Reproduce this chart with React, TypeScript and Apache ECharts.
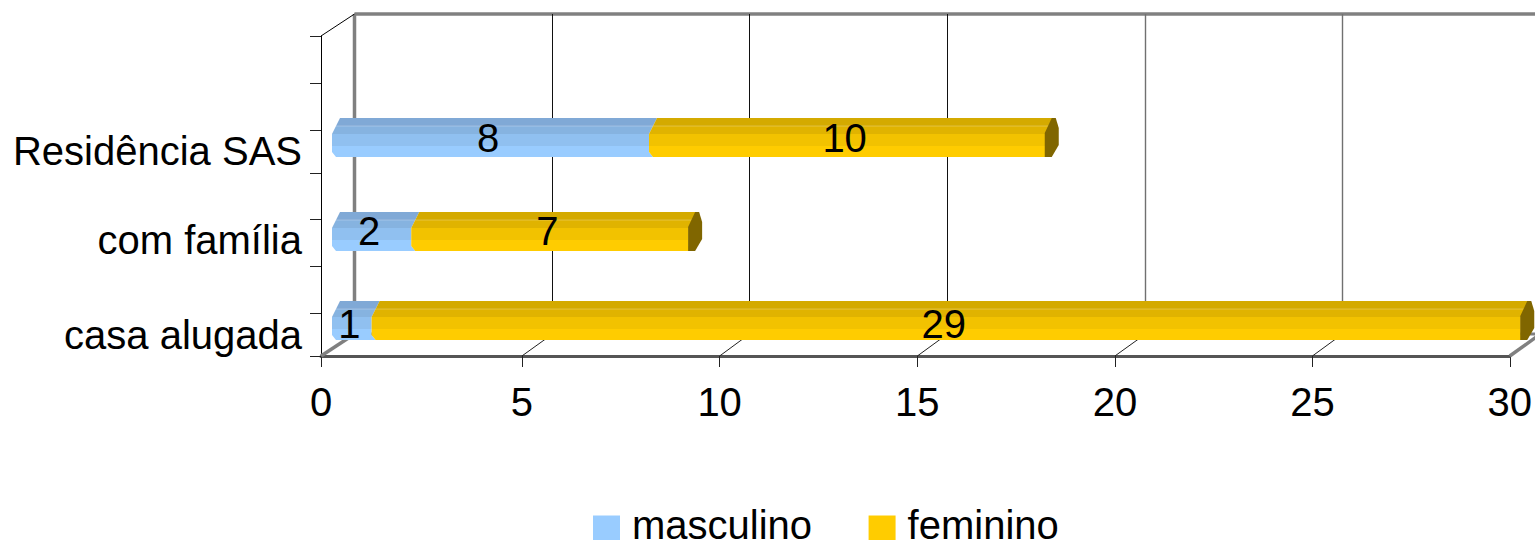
import React, { useEffect, useRef } from "react";
import * as echarts from "echarts";

const rowNames = ["casa alugada", "com família", "Residência SAS"];
const rowValues = [0.5, 2.45, 4.5];
const rowNameValues = [0.46, 2.54, 4.48];
const rowLabelValues = [0.71, 2.73, 4.77];
const masculino = [1, 2, 8];
const feminino = [29, 7, 10];
const xTicks = [0, 5, 10, 15, 20, 25, 30];
const xTickMarks = [0, 5.07, 10.06, 15.05, 20.035, 25.02, 30];
const yTickMarks = [0, 0.94, 1.97, 2.99, 4, 4.94, 5.97, 7];
const seriesNames = ["masculino", "feminino"];

const FONT = "'Liberation Sans', Arial, sans-serif";
const BLUE = ["#80a9d6", "#86b3e0", "#90c0f0", "#99ccff"];
const YELLOW = ["#d4aa00", "#e0b300", "#f2c200", "#ffcc00"];
const BAR_DX = 11;
const BAR_TOP = -32;
const PROFILE: number[][] = [[0, 8], [8, 4], [16, 0], [28, 0], [34, 0], [39, 4]];
const STRIPES = [[0, 1], [1, 2], [2, 3], [3, 5]];
const WALL_DX = 33;
const WALL_DY = -22;
const WALL_SCALE = 1188 / 1191;

function makeBar(colors: string[], capped: boolean) {
  return (_p: any, api: any) => {
    const a = api.coord([api.value(0), api.value(2)]);
    const b = api.coord([api.value(1), api.value(2)]);
    const L = a[0] + BAR_DX;
    const R = b[0] + BAR_DX;
    const top = Math.round(a[1] + BAR_TOP);
    const children: any[] = STRIPES.map(([i, j], k) => {
      const prof = PROFILE.slice(i, j + 1);
      const pts = [
        ...prof.map(([dy, dx]) => [L + dx, top + dy]),
        ...prof.slice().reverse().map(([dy, dx]) => [R + dx, top + dy]),
      ];
      return { type: "polygon", shape: { points: pts }, style: { fill: colors[k] } };
    });
    children.push({
      type: "line",
      shape: { x1: L + 4, y1: top + 8, x2: R + 4, y2: top + 8 },
      style: { stroke: "#ffffff", opacity: 0.25, lineWidth: 1 },
    });
    if (capped) {
      children.push({
        type: "polygon",
        shape: {
          points: [
            [R - 0.5, top + 15], [R + 6.5, top], [R + 10.5, top], [R + 13.5, top + 10],
            [R + 13.5, top + 27], [R + 6.5, top + 39], [R - 0.5, top + 39],
          ],
        },
        style: { fill: "#806600" },
      });
    }
    children.push({
      type: "text",
      style: {
        text: String(api.value(1) - api.value(0)),
        x: (L + R) / 2 - 2.5,
        y: api.coord([0, api.value(3)])[1],
        align: "center",
        verticalAlign: "middle",
        fontFamily: FONT,
        fontSize: 40,
        fill: "#000000",
      },
    });
    return { type: "group", children };
  };
}

function renderWall(_p: any, api: any) {
  const v = api.value(0);
  const x = api.coord([v, 0])[0];
  const x0 = api.coord([0, 0])[0];
  const foot = api.coord([api.value(1), 0])[0];
  const back = Math.round(x0 + (x - x0) * WALL_SCALE + WALL_DX) + 0.5;
  const bottom = api.coord([v, 0])[1];
  const top = api.coord([v, 7])[1];
  const last = xTicks[xTicks.length - 1];
  const edge = v === 0 || v === last;
  const faded = v > 15;
  const stroke = edge ? "#808080" : faded ? "#707070" : "#111111";
  const width = edge ? 3.5 : faded ? 1.4 : 1;
  const children: any[] = [
    {
      type: "line",
      shape: { x1: back, y1: top + WALL_DY, x2: back, y2: bottom + WALL_DY },
      style: { stroke, lineWidth: width },
    },
    {
      type: "line",
      shape: { x1: foot, y1: bottom, x2: back, y2: bottom + WALL_DY },
      style: { stroke: edge ? "#808080" : "#222222", lineWidth: edge ? 3.5 : 1 },
    },
  ];
  if (v === 0) {
    const xEnd = api.coord([last, 0])[0] + WALL_DX;
    children.push(
      {
        type: "line",
        shape: { x1: back, y1: top + WALL_DY, x2: xEnd, y2: top + WALL_DY },
        style: { stroke: "#808080", lineWidth: 3.5 },
      },
      {
        type: "line",
        shape: { x1: back, y1: bottom + WALL_DY, x2: xEnd, y2: bottom + WALL_DY },
        style: { stroke: "#808080", lineWidth: 3 },
      },
      {
        type: "line",
        shape: { x1: x, y1: top, x2: back, y2: top + WALL_DY },
        style: { stroke: "#000000", lineWidth: 1 },
      }
    );
  }
  return { type: "group", children };
}

export default function App() {
  const ref = useRef<HTMLDivElement>(null);
  useEffect(() => {
    document.body.style.margin = "0";
    const chart = echarts.init(ref.current!, undefined, { renderer: "svg" });
    chart.setOption({
      animation: false,
      backgroundColor: "#ffffff",
      textStyle: { fontFamily: FONT },
      grid: { left: 321, right: 23, top: 36, bottom: 184, containLabel: false },
      legend: {
        data: seriesNames,
        left: 588,
        top: 500,
        itemWidth: 27,
        itemHeight: 25,
        itemGap: 56.5,
        icon: "rect",
        formatter: "{t|{name}}",
        textStyle: {
          rich: {
            t: {
              fontFamily: FONT,
              fontSize: 40,
              color: "#000000",
              padding: [0, 0, 6, 7],
              verticalAlign: "bottom",
            },
          },
        },
      },
      xAxis: {
        type: "value",
        min: 0,
        max: 30,
        interval: 5,
        splitLine: { show: false },
        axisLine: { show: true, lineStyle: { color: "#555555", width: 3 } },
        axisTick: { show: true, length: 11, customValues: xTickMarks, lineStyle: { color: "#222222", width: 1 } },
        axisLabel: {
          margin: 26,
          customValues: xTickMarks,
          formatter: (v: number) => String(xTicks[xTickMarks.indexOf(v)]),
          fontFamily: FONT,
          fontSize: 40,
          color: "#000000",
        },
      },
      yAxis: {
        type: "value",
        min: 0,
        max: 7,
        interval: 1,
        splitLine: { show: false },
        axisLine: { show: true, lineStyle: { color: "#000000", width: 1 } },
        axisTick: { show: true, length: 11, customValues: yTickMarks, lineStyle: { color: "#222222", width: 1 } },
        axisLabel: {
          margin: 19,
          customValues: rowNameValues,
          formatter: (v: number) => rowNames[rowNameValues.indexOf(v)],
          fontFamily: FONT,
          fontSize: 40,
          color: "#000000",
        },
      },
      series: [
        {
          type: "custom",
          name: "walls",
          silent: true,
          clip: false,
          data: xTicks.map((v, i) => [v, xTickMarks[i]]),
          encode: { x: 0 },
          renderItem: renderWall,
          z: 1,
        },
        {
          type: "custom",
          name: seriesNames[0],
          silent: true,
          clip: false,
          itemStyle: { color: "#99ccff" },
          data: masculino.map((v, i) => [0, v, rowValues[i], rowLabelValues[i]]),
          encode: { x: [0, 1], y: 2 },
          renderItem: makeBar(BLUE, false),
          z: 2,
        },
        {
          type: "custom",
          name: seriesNames[1],
          silent: true,
          clip: false,
          itemStyle: { color: "#ffcc00" },
          data: feminino.map((v, i) => [masculino[i], masculino[i] + v, rowValues[i], rowLabelValues[i]]),
          encode: { x: [0, 1], y: 2 },
          renderItem: makeBar(YELLOW, true),
          z: 3,
        },
      ],
    });
    return () => chart.dispose();
  }, []);
  return <div ref={ref} style={{ width: 1535, height: 540 }} />;
}
